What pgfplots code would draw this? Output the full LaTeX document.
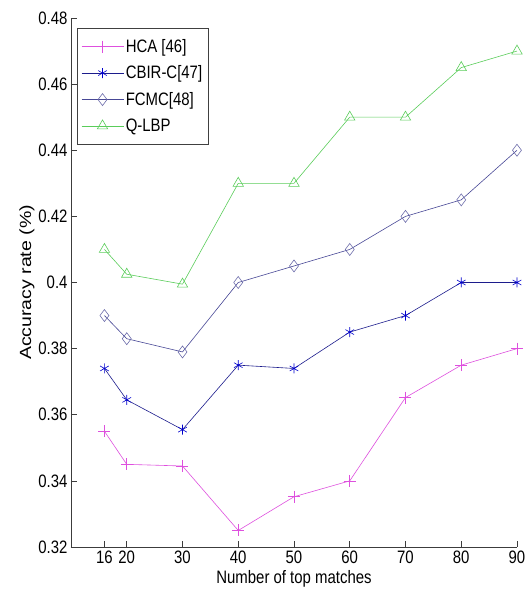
\documentclass[border=0pt]{standalone}
\usepackage{pgfplots}
\pgfplotsset{compat=1.18}
\usepackage{fontspec}
\setmainfont{Liberation Sans}[FakeStretch=0.83]
\newfontfamily\ylabfont{Liberation Sans}
\newcommand\tf{\fontsize{18}{21}\selectfont}
\definecolor{hca}{RGB}{222,80,222}
\definecolor{cbir}{RGB}{28,28,140}
\definecolor{fcmc}{RGB}{72,72,150}
\definecolor{qlbp}{RGB}{90,205,90}
\definecolor{axc}{RGB}{60,60,60}
\begin{document}
\begin{tikzpicture}
\useasboundingbox (-71pt,-56pt) rectangle (458pt,547pt);
\begin{axis}[name=ax, scale only axis, width=446pt, height=529pt,
  xmin=10, xmax=90, ymin=0.32, ymax=0.48,
  axis lines=left, axis line style={-, draw=axc, line width=0.8pt},
  xtick={16,20,30,40,50,60,70,80,90},
  ytick={0.32,0.34,0.36,0.38,0.40,0.42,0.44,0.46,0.48},
  tick align=inside, major tick length=6pt,
  tick style={draw=axc, line width=0.6pt},
  yticklabel style={/pgf/number format/.cd, fixed, precision=2},
  /pgf/number format/assume math mode=true,
  ticklabel style={font=\tf},
  xlabel={Number of top matches},
  ylabel={\scalebox{1}[0.83]{\ylabfont\fontsize{19.5}{22}\selectfont Accuracy rate (\%)}},
  ylabel style={at={(axis description cs:-0.099,0.5)}, anchor=center},
  xlabel style={font=\tf},
  clip=false,
  legend style={at={(0.0135,0.981)}, anchor=north west, draw=black!75, font=\tf,
    nodes={font=\tf},
    inner xsep=4pt, inner ysep=9pt, row sep=8pt, legend cell align=left},
  legend image code/.code={\draw[mark repeat=2,mark phase=2] plot coordinates {(0pt,0pt) (21pt,0pt) (42pt,0pt)};},
]
\addplot[color=hca, line width=0.6pt, mark=+, mark size=6pt] coordinates {(16,0.355)(20,0.345)(30,0.3445)(40,0.325)(50,0.3352)(60,0.34)(70,0.3652)(80,0.375)(90,0.38)};
\addlegendentry{\tf HCA [46]}
\addplot[color=cbir, line width=0.6pt, mark=asterisk, mark size=5pt, mark options={color=blue!80!black}] coordinates {(16,0.374)(20,0.3645)(30,0.3555)(40,0.375)(50,0.374)(60,0.385)(70,0.390)(80,0.40)(90,0.40)};
\addlegendentry{\tf CBIR-C[47]}
\addplot[color=fcmc, line width=0.6pt, mark=diamond, mark size=6pt, mark options={color=fcmc!80}] coordinates {(16,0.390)(20,0.383)(30,0.379)(40,0.40)(50,0.405)(60,0.41)(70,0.42)(80,0.425)(90,0.44)};
\addlegendentry{\tf FCMC[48]}
\addplot[color=qlbp, line width=0.6pt, mark=triangle, mark size=6pt] coordinates {(16,0.41)(20,0.4025)(30,0.3995)(40,0.43)(50,0.43)(60,0.45)(70,0.45)(80,0.465)(90,0.47)};
\addlegendentry{\tf Q-LBP}
\end{axis}
\end{tikzpicture}
\end{document}
